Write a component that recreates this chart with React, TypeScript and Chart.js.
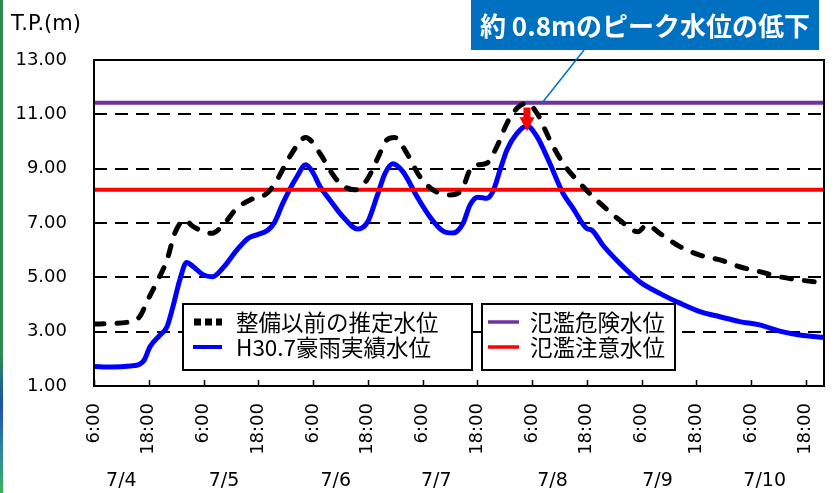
import React, { useEffect, useRef } from 'react';
import { Chart, registerables } from 'chart.js';

Chart.register(...registerables);

// ---------- data ----------
const xMin = 0; // hours since 7/4 6:00
const xMax = 160;
const tickHours = [0, 12, 24, 36, 48, 60, 72, 84, 96, 108, 120, 132, 144, 156];
const tickLabels = ['6:00', '18:00', '6:00', '18:00', '6:00', '18:00', '6:00', '18:00', '6:00', '18:00', '6:00', '18:00', '6:00', '18:00'];
const dayLabels = ['7/4', '7/5', '7/6', '7/7', '7/8', '7/9', '7/10'];
const dayLabelHours = [6, 28.5, 53, 75, 100.5, 123.5, 147];
const yTicks = [1, 3, 5, 7, 9, 11, 13];
const yTitle = 'T.P.(m)';

const actualHours = [0, 4, 8, 10, 11, 12.3, 14.5, 16, 17.3, 18.8, 20.3, 21.7, 23.9, 26, 28.3, 31.3, 33.8, 36, 38, 39.5, 41.4, 44.5, 46.4, 48, 49.5, 51.7, 54.6, 57.8, 60, 62, 63.8, 65.5, 67.7, 70.8, 73.6, 76.5, 78.7, 80.9, 82.4, 84.1, 86.1, 87.4, 89, 90.5, 92.7, 94.9, 97.1, 99.9, 102.8, 105, 108, 109.1, 111.5, 115.2, 119.6, 124, 128.4, 132.8, 137.2, 141.5, 145.9, 150.3, 154.7, 160];
const actualLevels = [1.72, 1.70, 1.74, 1.80, 1.95, 2.45, 2.88, 3.18, 3.92, 4.90, 5.55, 5.40, 5.10, 5.02, 5.35, 6.00, 6.44, 6.58, 6.72, 7.00, 7.73, 8.71, 9.14, 8.85, 8.35, 7.85, 7.22, 6.78, 7.05, 7.97, 8.83, 9.18, 8.89, 7.97, 7.23, 6.70, 6.63, 6.99, 7.66, 7.95, 7.91, 8.15, 8.95, 9.69, 10.30, 10.57, 10.18, 9.20, 8.09, 7.54, 6.80, 6.74, 6.19, 5.52, 4.84, 4.41, 4.05, 3.74, 3.55, 3.37, 3.25, 3.02, 2.88, 2.79];

const estimateHours = [0, 4, 7.9, 10, 11.8, 14, 16, 17.7, 19.9, 21.5, 23.2, 25.9, 28.3, 31.3, 34.2, 37.9, 40.1, 42.9, 46.4, 49.5, 51.7, 53.9, 57.2, 59.8, 62, 64.2, 65.8, 68.8, 71.4, 74.3, 78, 80.6, 82.4, 84.1, 86.1, 88.3, 90.5, 92.7, 94.9, 97.1, 99.9, 102.8, 106.5, 110.9, 115.2, 119.2, 121.2, 124, 128.4, 132.8, 137.2, 141.5, 145.9, 150.3, 154.7, 160];
const estimateLevels = [3.28, 3.30, 3.37, 3.55, 4.17, 4.90, 5.64, 6.62, 7.11, 6.90, 6.74, 6.62, 6.93, 7.54, 7.85, 8.09, 8.58, 9.44, 10.15, 9.57, 8.95, 8.46, 8.22, 8.58, 9.32, 10.06, 10.15, 9.50, 8.71, 8.22, 8.03, 8.22, 8.95, 9.14, 9.20, 9.81, 10.67, 11.22, 11.41, 11.04, 10.06, 9.20, 8.46, 7.73, 7.11, 6.68, 6.93, 6.62, 6.13, 5.82, 5.64, 5.39, 5.21, 5.02, 4.90, 4.80];

const dangerLevel = 11.43;
const warningLevel = 8.22;

const seriesNames = ['整備以前の推定水位', 'H30.7豪雨実績水位', '氾濫危険水位', '氾濫注意水位'];
const calloutText = '約 0.8mのピーク水位の低下';
const arrowHour = 94.9;
const arrowFrom = 11.25;
const arrowTo = 10.38;
const leaderHour = 98.2;
const leaderLevel = 11.42;

// ---------- styles ----------
const NUM_FONT = '"DejaVu Sans", sans-serif';
const JP_FONT = '"Noto Sans CJK JP", sans-serif';
const BLUE = '#0000FF';
const PURPLE = '#7030A0';
const RED = '#FF0000';

const decorPlugin = {
  id: 'decor',
  beforeDatasetsDraw(chart: any) {
    const { ctx, chartArea, scales } = chart;
    const y = scales.y;
    ctx.save();
    ctx.strokeStyle = '#000';
    ctx.lineWidth = 2;
    ctx.setLineDash([13, 8]);
    yTicks.forEach((v) => {
      if (v === yTicks[0] || v === yTicks[yTicks.length - 1]) return;
      const py = Math.round(y.getPixelForValue(v));
      ctx.beginPath();
      ctx.moveTo(chartArea.left, py);
      ctx.lineTo(chartArea.right, py);
      ctx.stroke();
    });
    ctx.restore();
  },
  afterDatasetsDraw(chart: any) {
    const { ctx, chartArea, scales } = chart;
    const x = scales.x;
    const y = scales.y;
    ctx.save();

    // plot frame
    ctx.strokeStyle = '#000';
    ctx.lineWidth = 2;
    ctx.setLineDash([]);
    ctx.strokeRect(chartArea.left, chartArea.top, chartArea.right - chartArea.left, chartArea.bottom - chartArea.top);

    // inner tick marks on x axis
    ctx.lineWidth = 1.5;
    tickHours.forEach((h) => {
      const px = Math.round(x.getPixelForValue(h)) + 0.5;
      ctx.beginPath();
      ctx.moveTo(px, chartArea.bottom);
      ctx.lineTo(px, chartArea.bottom - 6);
      ctx.stroke();
    });

    // red arrow
    const ax = x.getPixelForValue(arrowHour);
    const yTop = y.getPixelForValue(arrowFrom);
    const yTip = y.getPixelForValue(arrowTo);
    ctx.fillStyle = RED;
    ctx.fillRect(ax - 3.5, yTop, 7, yTip - yTop - 12);
    ctx.beginPath();
    ctx.moveTo(ax - 7.5, yTip - 14);
    ctx.lineTo(ax + 7.5, yTip - 14);
    ctx.lineTo(ax, yTip);
    ctx.closePath();
    ctx.fill();

    // legends
    const drawBox = (l: number, t: number, r: number, b: number) => {
      ctx.fillStyle = '#fff';
      ctx.fillRect(l, t, r - l, b - t);
      ctx.strokeStyle = '#000';
      ctx.lineWidth = 2;
      ctx.setLineDash([]);
      ctx.strokeRect(l, t, r - l, b - t);
    };
    drawBox(183, 304, 472, 370);
    drawBox(482, 304, 675, 370);
    const rows = [322, 347];
    // black dotted sample
    ctx.strokeStyle = '#000';
    ctx.lineWidth = 7;
    ctx.setLineDash([7, 4]);
    ctx.beginPath();
    ctx.moveTo(194, rows[0]);
    ctx.lineTo(222, rows[0]);
    ctx.stroke();
    ctx.setLineDash([]);
    const sample = (color: string, x0: number, x1: number, yy: number, w: number) => {
      ctx.strokeStyle = color;
      ctx.lineWidth = w;
      ctx.beginPath();
      ctx.moveTo(x0, yy);
      ctx.lineTo(x1, yy);
      ctx.stroke();
    };
    sample(BLUE, 193, 222, rows[1], 4);
    sample(PURPLE, 488, 519, rows[0], 3.5);
    sample(RED, 488, 519, rows[1], 3.5);
    ctx.fillStyle = '#000';
    ctx.font = `22.5px ${JP_FONT}`;
    ctx.textAlign = 'left';
    ctx.textBaseline = 'middle';
    ctx.fillText(seriesNames[0], 236, rows[0]);
    ctx.fillText(seriesNames[1], 236, rows[1]);
    ctx.fillText(seriesNames[2], 530, rows[0]);
    ctx.fillText(seriesNames[3], 530, rows[1]);

    // day labels
    ctx.font = `19px ${NUM_FONT}`;
    ctx.textAlign = 'center';
    dayLabels.forEach((d, i) => {
      ctx.fillText(d, x.getPixelForValue(dayLabelHours[i]), 481);
    });

    // y title
    ctx.textAlign = 'left';
    ctx.textBaseline = 'alphabetic';
    ctx.font = `21px ${NUM_FONT}`;
    ctx.fillText(yTitle, 11, 30);

    // callout
    const lx = x.getPixelForValue(leaderHour);
    const ly = y.getPixelForValue(leaderLevel);
    ctx.strokeStyle = '#0070C0';
    ctx.lineWidth = 1.5;
    ctx.beginPath();
    ctx.moveTo(584, 50);
    ctx.lineTo(lx, ly);
    ctx.stroke();
    ctx.fillStyle = '#0070C0';
    ctx.fillRect(471, 0, 348, 50);
    ctx.fillStyle = '#fff';
    ctx.font = `bold 26px ${JP_FONT}`;
    ctx.textAlign = 'center';
    ctx.textBaseline = 'middle';
    ctx.fillText(calloutText, 645, 26);

    ctx.restore();
  },
};

export default function App() {
  const canvasRef = useRef<HTMLCanvasElement | null>(null);

  useEffect(() => {
    if (!canvasRef.current) return;
    const toPoints = (hs: number[], vs: number[]) => hs.map((h, i) => ({ x: h, y: vs[i] }));
    const chart = new Chart(canvasRef.current, {
      type: 'line',
      data: {
        datasets: [
          {
            label: seriesNames[0],
            data: toPoints(estimateHours, estimateLevels),
            borderColor: '#000',
            borderWidth: 5,
            borderDash: [10, 13],
            borderCapStyle: 'round',
            pointRadius: 0,
            cubicInterpolationMode: 'monotone',
            fill: false,
            order: 0,
          },
          {
            label: seriesNames[2],
            data: [{ x: xMin, y: dangerLevel }, { x: xMax, y: dangerLevel }],
            borderColor: PURPLE,
            borderWidth: 4,
            pointRadius: 0,
            fill: false,
            order: 1,
          },
          {
            label: seriesNames[3],
            data: [{ x: xMin, y: warningLevel }, { x: xMax, y: warningLevel }],
            borderColor: RED,
            borderWidth: 4,
            pointRadius: 0,
            fill: false,
            order: 1,
          },
          {
            label: seriesNames[1],
            data: toPoints(actualHours, actualLevels),
            borderColor: BLUE,
            borderWidth: 5,
            pointRadius: 0,
            cubicInterpolationMode: 'monotone',
            fill: false,
            order: 2,
          },
        ],
      } as any,
      options: {
        animation: false,
        responsive: false,
        devicePixelRatio: 1,
        layout: { padding: { left: 0, top: 60, right: 11, bottom: 0 } },
        plugins: {
          legend: { display: false },
          title: { display: false },
          tooltip: { enabled: false },
        },
        scales: {
          x: {
            type: 'linear',
            min: xMin,
            max: xMax,
            grid: { display: false, drawTicks: false },
            border: { display: false },
            afterBuildTicks: (scale: any) => {
              scale.ticks = tickHours.map((v) => ({ value: v }));
            },
            afterFit: (scale: any) => {
              scale.height = 107;
              scale.paddingLeft = 0;
              scale.paddingRight = 0;
            },
            ticks: {
              autoSkip: false,
              minRotation: 90,
              maxRotation: 90,
              padding: 17,
              color: '#000',
              font: { family: NUM_FONT, size: 18 },
              callback: (_v: any, i: number) => tickLabels[i],
            },
          },
          y: {
            type: 'linear',
            min: yTicks[0],
            max: yTicks[yTicks.length - 1],
            grid: { display: false, drawTicks: false },
            border: { display: false },
            afterBuildTicks: (scale: any) => {
              scale.ticks = yTicks.map((v) => ({ value: v }));
            },
            afterFit: (scale: any) => {
              scale.width = 94;
              scale.paddingTop = 0;
              scale.paddingBottom = 0;
            },
            ticks: {
              padding: 27,
              color: '#000',
              font: { family: NUM_FONT, size: 18 },
              callback: (v: any) => Number(v).toFixed(2),
            },
          },
        },
      } as any,
      plugins: [decorPlugin],
    });
    return () => chart.destroy();
  }, []);

  return (
    <div style={{ position: 'absolute', left: 0, top: 0, width: 835, height: 493, background: '#fff', overflow: 'hidden' }}>
      <canvas ref={canvasRef} width={835} height={493} style={{ display: 'block', width: 835, height: 493 }} />
      <div
        style={{
          position: 'absolute',
          left: 0,
          top: 0,
          width: 3,
          height: 493,
          background: 'linear-gradient(to bottom, #2f8a4e 0%, #2f8a4e 72%, #1d4fb0 82%, #2a7fa0 90%, #3cb35a 100%)',
        }}
      />
    </div>
  );
}
